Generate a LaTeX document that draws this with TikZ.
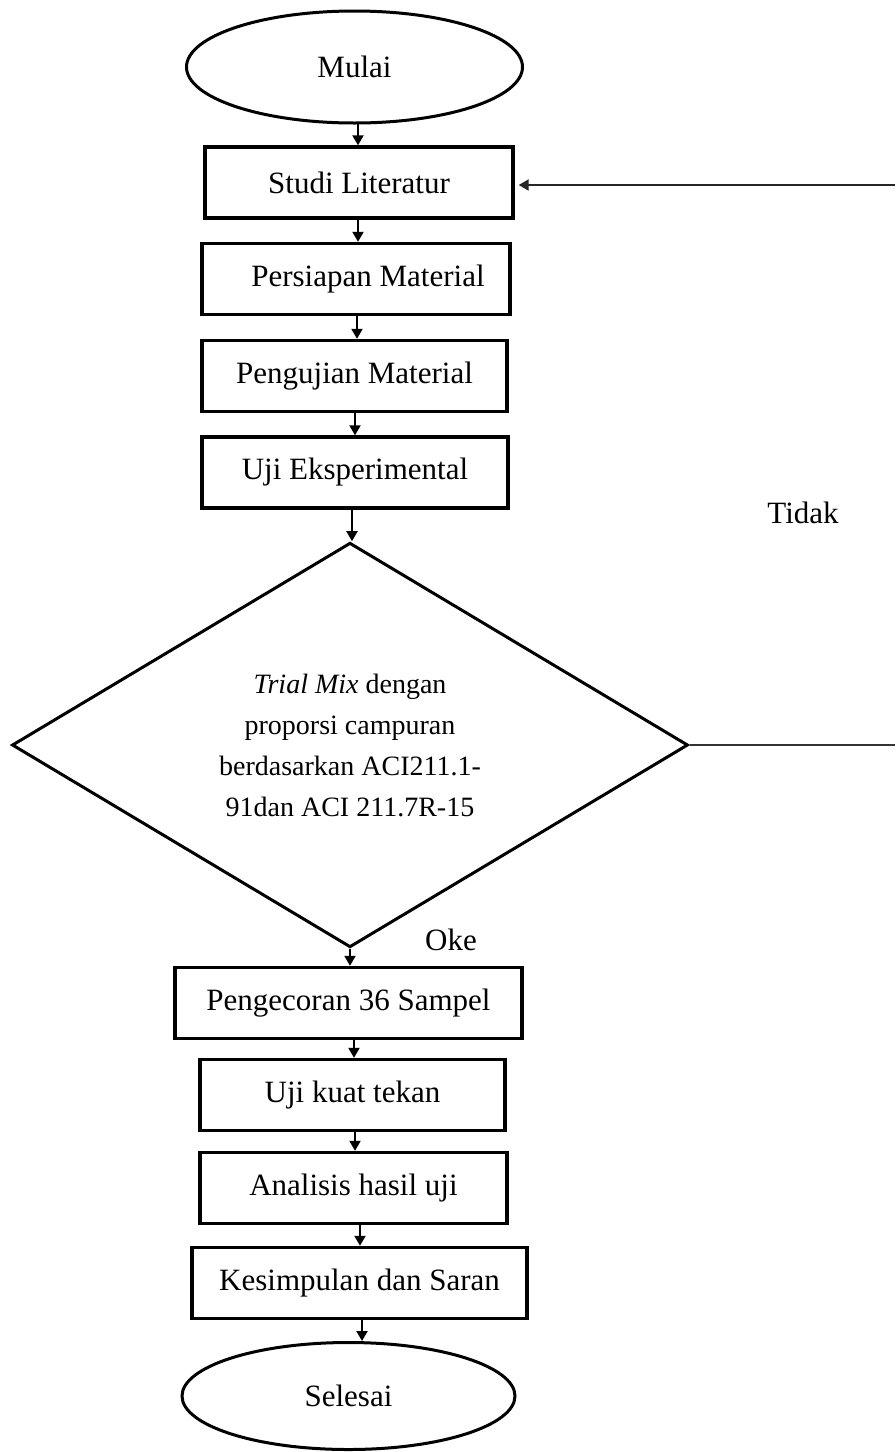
\documentclass[tikz,border=0pt]{standalone}
\usepackage{fontspec}
\setmainfont{Liberation Serif}
\usetikzlibrary{shapes.geometric,arrows.meta}
\begin{document}
\begin{tikzpicture}[x=0.5pt,y=-0.5pt,
  every node/.style={font=\fontsize{15.5}{18}\selectfont},
  procbox/.style={draw,line width=1.7pt,rectangle,inner sep=0pt,minimum height=35.5pt},
  termin/.style={draw,line width=1.5pt,ellipse,inner sep=0pt},
  decis/.style={draw,line width=1.5pt,diamond,inner sep=0pt,minimum width=338pt,minimum height=198pt,
     align=center,font=\fontsize{14}{20.5}\selectfont},
  arr/.style={line width=1pt,-{Triangle[length=5pt,width=5.5pt]}},
  lab/.style={inner sep=0pt}]
\useasboundingbox (0,0) rectangle (895,1452);
\node[termin,minimum width=168pt,minimum height=56pt] (mulai) at (354.5,67) {Mulai};
\node[procbox,minimum width=154pt] (studi) at (359,182.5) {Studi Literatur};
\node[procbox,minimum width=154pt] (persiapan) at (356,279) {\hspace{12pt}Persiapan Material};
\node[procbox,minimum width=152.5pt] (pengujian) at (354.5,376) {Pengujian Material};
\node[procbox,minimum width=153pt] (uji) at (355,472.5) {Uji Eksperimental};
\node[decis] (trial) at (350,745) {\textit{Trial Mix} dengan\\proporsi campuran\\berdasarkan ACI211.1-\\91dan ACI 211.7R-15};
\node[procbox,minimum width=173.5pt] (cor) at (348.5,1003) {Pengecoran 36 Sampel};
\node[procbox,minimum width=152.5pt] (tekan) at (352.5,1095) {Uji kuat tekan};
\node[procbox,minimum width=153.5pt] (analisis) at (353.5,1188) {Analisis hasil uji};
\node[procbox,minimum width=167.5pt] (simpul) at (359.5,1283) {Kesimpulan dan Saran};
\node[termin,minimum width=166.5pt,minimum height=53.5pt] (selesai) at (348.5,1396) {Selesai};
\node[lab] (tidak) at (803,513) {Tidak};
\node[lab] (oke) at (451,940) {Oke};
\coordinate (rdec) at (895,745);
\coordinate (rtop) at (895,185);
\coordinate (sl) at (rtop -| studi.east);
\draw[arr] (358,123) coordinate (m1) -- (m1 |- studi.north);
\draw[arr] (358,218) coordinate (s1) -- (s1 |- persiapan.north);
\draw[arr] (357,315) coordinate (p1) -- (p1 |- pengujian.north);
\draw[arr] (355,412) coordinate (q1) -- (q1 |- uji.north);
\draw[arr] (352,508) coordinate (u1) -- (u1 |- trial.north);
\draw[arr] (trial.south) -- (trial.south |- cor.north);
\draw[arr] (354,1038) coordinate (c1) -- (c1 |- tekan.north);
\draw[arr] (355,1130) coordinate (t1) -- (t1 |- analisis.north);
\draw[arr] (360,1223) coordinate (a1) -- (a1 |- simpul.north);
\draw[arr] (362,1318) coordinate (k1) -- (k1 |- selesai.north);
\draw[line width=1pt,black!80] (trial.east) -- (rdec);
\draw[arr,black!85] (rtop) -- ([xshift=2pt]sl);
\end{tikzpicture}
\end{document}
